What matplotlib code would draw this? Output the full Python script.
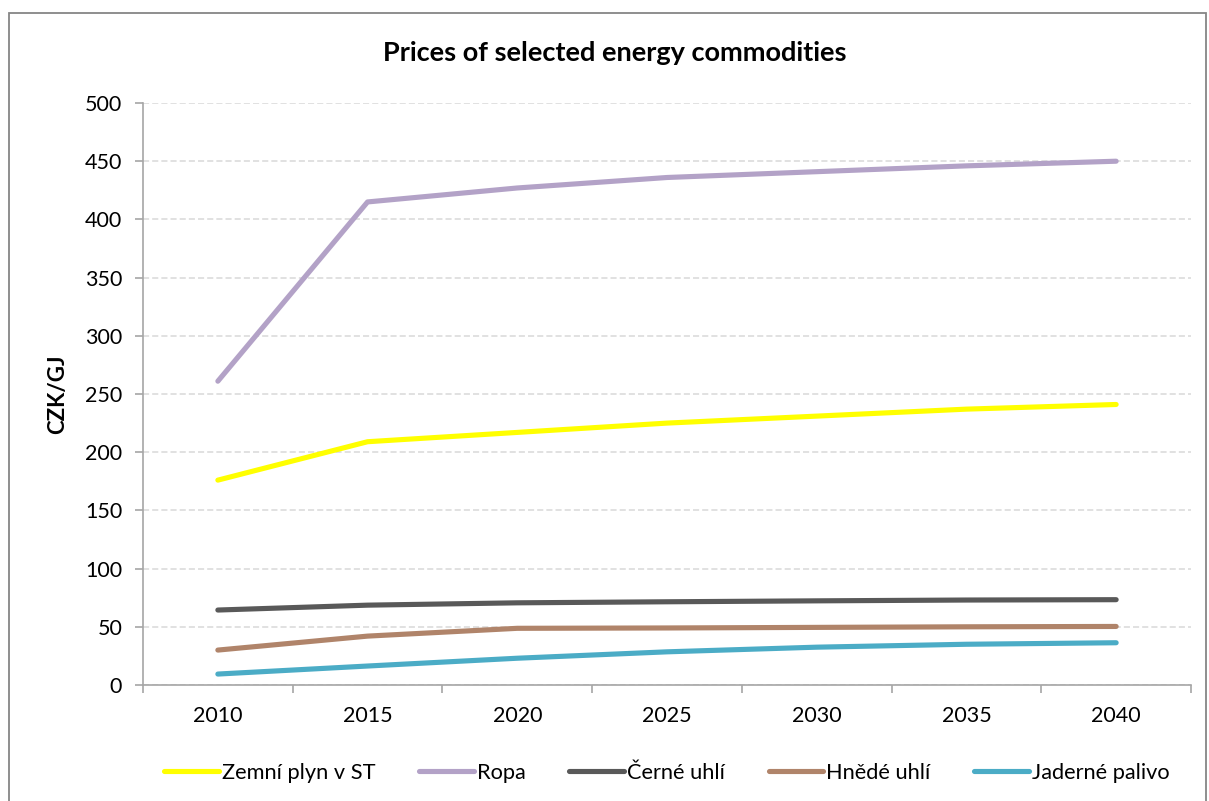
import matplotlib.pyplot as plt
from matplotlib.patches import Rectangle

# values (CZK/GJ)
years = ['2010', '2015', '2020', '2025', '2030', '2035', '2040']
zemni_plyn = [176, 209, 217, 225, 231, 237, 241]
ropa = [261, 415, 427, 436, 441, 446, 450]
cerne_uhli = [64.4, 68.6, 70.6, 71.5, 72.3, 73, 73.3]
hnede_uhli = [30, 42, 48.7, 49, 49.5, 50, 50.3]
jaderne_palivo = [9.4, 16.3, 23, 28.5, 32.5, 35, 36.3]

series_names = ['Zemní plyn v ST', 'Ropa', 'Černé uhlí', 'Hnědé uhlí', 'Jaderné palivo']
series_vals = [zemni_plyn, ropa, cerne_uhli, hnede_uhli, jaderne_palivo]
colors = ['#FFFF00', '#B3A2C7', '#595959', '#B0846A', '#4BACC6']

plt.rcParams['font.family'] = ['Lato', 'DejaVu Sans']

W, H = 1209, 801
fig = plt.figure(figsize=(W / 100, H / 100), dpi=100)
ax = fig.add_axes([143 / W, 1 - 685 / H, (1191 - 143) / W, (685 - 103) / H])

# outer chart border
fig.patches.append(Rectangle((9 / W, -0.01), (1206 - 9) / W, 1 - 13 / H + 0.01,
                             transform=fig.transFigure, fill=False,
                             edgecolor='#868686', linewidth=1.3))

x = list(range(len(years)))
for name, vals, c in zip(series_names, series_vals, colors):
    ax.plot(x, vals, color=c, linewidth=3.7, solid_capstyle='round',
            solid_joinstyle='round', label=name, zorder=3)

ax.set_xlim(-0.5, len(years) - 0.5)
ax.set_ylim(0, 500)
ax.set_yticks(range(0, 501, 50))
ax.set_xticks(x)
ax.set_xticklabels(years)
ax.set_xticks([i - 0.5 for i in range(len(years) + 1)], minor=True)

ax.grid(axis='y', color='#D9D9D9', linestyle=(0, (4, 2)), linewidth=1.1)
ax.set_axisbelow(True)

for s in ['top', 'right']:
    ax.spines[s].set_visible(False)
for s in ['left', 'bottom']:
    ax.spines[s].set_color('#A6A6A6')
    ax.spines[s].set_linewidth(1.2)

ax.tick_params(axis='y', length=6, width=1.2, color='#A6A6A6', pad=9,
               labelsize=15.5)
ax.tick_params(axis='x', which='major', length=0, pad=15, labelsize=15.5)
ax.tick_params(axis='x', which='minor', length=6, width=1.2, color='#A6A6A6')

ax.set_ylabel('CZK/GJ', fontsize=16, fontweight='bold', labelpad=12)
fig.text(615 / W, 1 - 53 / H, 'Prices of selected energy commodities',
         ha='center', va='center', fontsize=19.5, fontweight='bold')

ax.legend(loc='center', bbox_to_anchor=(667 / W, 1 - 773 / H),
          bbox_transform=fig.transFigure, ncol=5, frameon=False,
          fontsize=15.7, handlelength=2.5, handletextpad=0.15,
          columnspacing=2.0)

fig.savefig('out.png', dpi=100)
